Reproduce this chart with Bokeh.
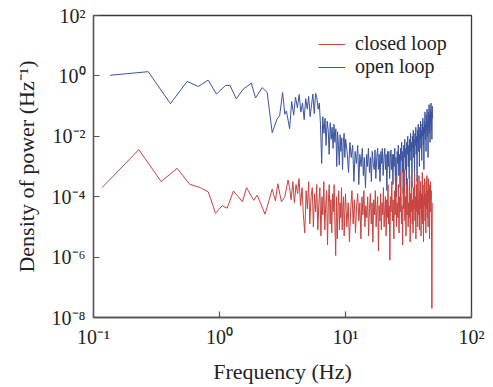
import numpy as np
from bokeh.plotting import figure
from bokeh.models import Range1d, FixedTicker, CustomJSTickFormatter, Legend, LegendItem
from bokeh.embed import file_html
from bokeh.resources import INLINE

# ---- data (frequency in Hz, log10 of power density) ----
open_f = [0.135, 0.272, 0.408, 0.554, 0.678, 0.813, 0.946, 1.116, 1.21, 1.36, 1.54, 1.79, 1.93, 2.18, 2.39,
          2.62, 2.86, 3.0, 3.17, 3.3, 3.4, 3.6,
          3.74, 3.88, 4.01, 4.15, 4.29, 4.42, 4.56, 4.7, 4.83, 4.97, 5.1, 5.24, 5.38, 5.51, 5.65, 5.79, 5.92,
          6.06, 6.2, 6.33,
          6.47, 6.6, 6.74, 6.88, 7.01, 7.15, 7.29, 7.42, 7.56, 7.7, 7.83, 7.97, 8.1, 8.24, 8.38, 8.52, 8.65,
          8.79, 8.93, 9.06, 9.2, 9.34, 9.47, 9.61, 9.75, 9.88, 10.02, 10.3, 10.57, 10.84, 11.1, 11.4, 11.66,
          11.93, 12.2, 12.5, 12.75, 13.0, 13.3, 13.6, 13.85, 14.1, 14.4, 14.7, 14.95, 15.2, 15.5, 15.8, 16.05,
          16.3, 16.6, 16.9, 17.15, 17.4, 17.7, 18.0, 18.25, 18.5, 18.8, 19.1, 19.35, 19.6, 19.9, 20.2, 20.5,
          20.75, 21.0, 21.3, 21.6, 21.85, 22.1, 22.4, 22.7, 22.95, 23.2, 23.5, 23.8, 24.05, 24.3, 24.6, 24.9,
          25.15, 25.4, 25.7, 26.0, 26.25, 26.5, 26.8, 27.1, 27.35, 27.6, 27.9, 28.2, 28.45, 28.7, 29.0, 29.3,
          29.55, 29.8, 30.1, 30.4, 30.65, 30.9, 31.2, 31.5, 31.75, 32.0, 32.3, 32.6, 32.85, 33.1, 33.4, 33.7,
          33.95, 34.2, 34.5, 34.8, 35.05, 35.3, 35.6, 35.9, 36.15, 36.4, 36.7, 37.0, 37.25, 37.5, 37.8, 38.1,
          38.35, 38.6, 38.9, 39.2, 39.45, 39.7, 40.0, 40.3, 40.55, 40.8, 41.1, 41.4, 41.65, 41.9, 42.2, 42.5,
          42.75, 43.0, 43.3, 43.6, 43.85, 44.1, 44.4, 44.7, 44.95, 45.2, 45.5, 45.8, 46.05, 46.3, 46.6, 46.9,
          47.15, 47.4, 47.7, 48.0, 48.25, 48.5, 48.8, 49.0]
open_log = [0.02, 0.14, -0.92, -0.18, -0.35, -0.14, -0.60, -0.32, -0.31, -0.76, -0.44, -0.24, -0.73, -0.39, -0.55,
            -1.88, -1.43, -1.32, -0.55, -1.27, -1.16, -1.75,
            -0.85, -1.3, -0.7, -1.05, -0.62, -1.2, -0.9, -1.45, -0.75, -1.1, -0.68, -1.35, -0.95, -0.6, -1.25,
            -0.58, -0.72, -1.1, -0.9, -1.6,
            -2.9, -1.35, -1.9, -1.4, -2.3, -1.5, -1.8, -2.6, -1.55, -2.1, -1.7, -2.4, -1.6, -2.2, -1.75, -3.0,
            -1.85, -2.3, -2.95, -1.95, -2.5, -2.05, -3.1, -2.2, -1.9, -2.7, -2.1, -2.5, -3.2, -2.2, -2.7, -2.3,
            -3.5, -2.5, -2.9, -2.3, -3.6, -2.6, -3.0, -2.4, -3.3, -2.7, -3.7, -2.6, -3.0, -2.4, -3.2, -2.7,
            -3.5, -2.5, -2.9, -3.1, -2.45, -3.4, -2.7, -2.4, -3.1, -2.6, -3.5, -2.5, -2.9, -2.4, -3.3, -2.7,
            -2.4, -3.1, -2.6, -3.8, -2.5, -3.0, -2.5, -3.4, -2.7, -2.45, -3.1, -2.6, -3.6, -2.6, -3.0, -2.4,
            -3.5, -2.7, -4.0, -2.5, -2.9, -2.3, -3.3, -2.6, -3.7, -2.4, -2.8, -2.2, -3.2, -2.5, -3.9, -2.3,
            -2.7, -2.1, -3.1, -2.4, -3.6, -2.2, -2.6, -2.0, -3.0, -2.3, -3.4, -2.1, -2.5, -1.9, -2.8, -2.2,
            -3.7, -2.0, -2.4, -1.8, -2.7, -2.1, -3.2, -1.9, -2.3, -1.7, -2.6, -2.0, -3.5, -1.8, -2.2, -1.6,
            -2.5, -1.9, -3.0, -1.7, -2.1, -1.5, -2.4, -1.8, -2.8, -1.6, -2.0, -1.4, -2.3, -1.7, -3.1, -1.5,
            -1.9, -1.2, -2.1, -1.6, -2.5, -1.3, -1.8, -1.1, -2.0, -1.5, -2.7, -1.2, -1.7, -0.95, -1.9, -1.3,
            -2.2, -1.1, -1.6, -0.9, -1.8, -1.2, -2.1, -1.0, -1.4]

closed_f = [0.117, 0.229, 0.344, 0.461, 0.581, 0.706, 0.815, 0.93, 1.05, 1.15, 1.29, 1.52, 1.64, 1.87, 1.99,
            2.3, 2.62, 2.78, 2.9, 3.1, 3.3, 3.5, 3.6,
            3.7, 3.82, 3.93, 4.05, 4.17, 4.28, 4.4, 4.52, 4.63, 4.75, 4.87, 4.98, 5.1, 5.21, 5.33, 5.45, 5.56,
            5.68, 5.8, 5.91, 6.03, 6.15, 6.26, 6.38, 6.5, 6.61, 6.73, 6.85, 6.96, 7.08, 7.2, 7.31, 7.43, 7.55,
            7.66, 7.78, 7.9, 8.01, 8.13, 8.25, 8.36, 8.48, 8.6, 8.71, 8.83, 8.95, 9.06, 9.18, 9.3, 9.41, 9.53,
            9.65, 9.76, 9.88, 10.0, 10.25, 10.5, 10.75, 11.0, 11.25, 11.5, 11.75, 12.0, 12.25, 12.5, 12.75, 13.0,
            13.25, 13.5, 13.75, 14.0, 14.25, 14.5, 14.75, 15.0, 15.25, 15.5, 15.75, 16.0, 16.25, 16.5, 16.75,
            17.0, 17.25, 17.5, 17.75, 18.0, 18.25, 18.5, 18.75, 19.0, 19.25, 19.5, 19.75, 20.0, 20.25, 20.5,
            20.75, 21.0, 21.25, 21.5, 21.75, 22.0, 22.25, 22.5, 22.75,
            23.0, 23.3, 23.6, 23.9, 24.2, 24.5, 24.8, 25.1, 25.4, 25.7, 26.0, 26.3, 26.6, 26.9, 27.2, 27.5,
            27.8, 28.1, 28.4, 28.7, 29.0, 29.3, 29.6, 29.9, 30.2, 30.5, 30.8, 31.1, 31.4, 31.7, 32.0, 32.3,
            32.6, 32.9, 33.2, 33.5, 33.8, 34.1, 34.4, 34.7, 35.0, 35.3, 35.6, 35.9, 36.2, 36.5, 36.8, 37.1,
            37.4, 37.7, 38.0, 38.3, 38.6, 38.9, 39.2, 39.5, 39.8, 40.1, 40.4, 40.7, 41.0, 41.3, 41.6, 41.9,
            42.2, 42.5, 42.8, 43.1, 43.4, 43.7, 44.0, 44.3, 44.6, 44.9, 45.2, 45.5, 45.8, 46.1, 46.4, 46.7,
            47.0, 47.3, 47.6, 47.9, 48.2, 48.5, 48.8]
closed_log = [-3.70, -2.44, -3.50, -3.06, -3.59, -3.70, -3.84, -4.55, -4.30, -4.38, -3.81, -4.17, -3.70, -4.12, -3.95,
              -4.58, -3.75, -4.14, -3.57, -4.17, -4.0, -3.45, -3.7,
              -4.1, -3.5, -4.2, -3.6, -3.9, -3.4, -4.3, -3.7, -4.6, -5.2, -3.8, -4.4, -3.5, -4.9, -4.0, -3.7, -5.0,
              -3.9, -4.5, -3.6, -5.1, -4.2, -3.7, -5.3, -4.0, -4.6, -3.5, -5.1, -4.3, -3.8, -5.6, -4.2, -3.6, -4.9,
              -4.1, -5.2, -3.9, -4.5, -3.6, -5.0, -5.95, -4.0, -5.4, -4.4, -3.8, -5.1, -4.2, -4.7, -3.7, -5.1, -4.3,
              -4.0, -5.3, -4.5, -3.9, -5.0, -4.2, -5.5, -4.4, -3.8, -4.9, -4.1, -5.2, -4.3, -3.9, -4.8, -4.2,
              -5.4, -4.0, -4.6, -3.8, -5.0, -4.3, -4.7, -4.0, -5.3, -4.4, -3.9, -4.9, -4.2, -5.5, -4.1,
              -4.6, -3.8, -5.0, -4.4, -4.0, -5.8, -4.3, -4.8, -3.9, -5.1, -4.2, -4.6, -3.7, -5.0, -4.4,
              -4.0, -5.3, -4.1, -4.7, -3.6, -4.9, -4.3, -6.1, -4.0,
              -4.5, -3.5, -4.8, -4.1, -5.4, -3.8, -4.6, -3.3, -5.0, -4.2, -4.7, -3.6, -5.2, -4.0, -4.5, -3.2,
              -4.9, -4.3, -5.6, -3.7, -4.4, -3.1, -4.8, -4.0, -5.3, -3.6, -4.6, -3.4, -5.0, -4.2, -4.7, -3.3,
              -5.5, -3.9, -4.5, -3.5, -4.9, -4.1, -5.2, -3.7, -4.4, -3.2, -4.8, -4.0, -5.4, -3.6, -4.5, -3.4,
              -5.0, -4.1, -4.6, -3.3, -5.1, -3.8, -4.4, -3.5, -5.3, -3.9, -4.7, -3.2, -4.9, -4.0, -5.5, -3.6,
              -4.3, -3.4, -4.8, -3.9, -5.2, -3.5, -4.4, -3.3, -4.7, -3.8, -5.0, -3.4, -4.2, -3.6, -5.4, -3.7,
              -4.5, -3.5, -4.1, -3.8, -5.6, -7.7, -4.2]

series_labels = ["closed loop", "open loop"]
x_ticks = [0.1, 1, 10, 100]
y_ticks = [1e-8, 1e-6, 1e-4, 1e-2, 1, 1e2]

open_y = [10 ** v for v in open_log]
closed_y = [10 ** v for v in closed_log]

FONT = "Liberation Serif"
TXT = "#222222"

p = figure(frame_width=378, frame_height=302, x_axis_type="log", y_axis_type="log",
           x_range=Range1d(0.1, 100), y_range=Range1d(1e-8, 1e2),
           output_backend="svg", toolbar_location=None,
           min_border_left=93, min_border_right=22, min_border_top=15, min_border_bottom=70)

p.background_fill_color = "white"
p.border_fill_color = "white"
p.outline_line_color = "#3a3a3a"
p.outline_line_width = 1.3
p.xgrid.visible = False
p.ygrid.visible = False

r_open = p.line(open_f, open_y, line_color="#3b539e", line_width=1)
r_closed = p.line(closed_f, closed_y, line_color="#c8423f", line_width=1)

fmt = CustomJSTickFormatter(code="""
const e = Math.round(Math.log10(tick));
const sup = {'-':'\u207b','0':'\u2070','1':'\u00b9','2':'\u00b2','3':'\u00b3','4':'\u2074',
             '5':'\u2075','6':'\u2076','7':'\u2077','8':'\u2078','9':'\u2079'};
return '10' + String(e).split('').map(c => sup[c]).join('');
""")

for ax, ticks in ((p.xaxis[0], x_ticks), (p.yaxis[0], y_ticks)):
    ax.ticker = FixedTicker(ticks=ticks, minor_ticks=[])
    ax.formatter = fmt
    ax.major_tick_in = 6
    ax.major_tick_out = 0
    ax.minor_tick_in = 0
    ax.minor_tick_out = 0
    ax.axis_line_color = "#555555"
    ax.axis_line_width = 1.3
    ax.major_tick_line_color = "#555555"
    ax.major_tick_line_width = 1.2
    ax.major_label_text_font = FONT
    ax.major_label_text_font_size = "20px"
    ax.major_label_text_color = TXT
    ax.axis_label_text_font = FONT
    ax.axis_label_text_font_size = "22px"
    ax.axis_label_text_font_style = "normal"
    ax.axis_label_text_color = TXT

p.xaxis.axis_label = "Frequency (Hz)"
p.yaxis.axis_label = "Density of power (Hz\u207b\u00b9)"
p.xaxis.major_label_standoff = 8
p.xaxis.axis_label_standoff = 8
p.yaxis.major_label_standoff = 8
p.yaxis.axis_label_standoff = 10


def make_legend(label, renderer, loc):
    return Legend(items=[LegendItem(label=label, renderers=[renderer])],
                  location=loc, border_line_color=None, background_fill_alpha=0,
                  label_text_font=FONT, label_text_font_size="20px", label_text_color=TXT,
                  glyph_width=27, glyph_height=20, label_height=20, label_standoff=10,
                  spacing=0, padding=0, margin=0)


p.add_layout(make_legend(series_labels[0], r_closed, (225, 262)))
p.add_layout(make_legend(series_labels[1], r_open, (225, 239)))

open("out.html", "w").write(file_html(p, INLINE))
